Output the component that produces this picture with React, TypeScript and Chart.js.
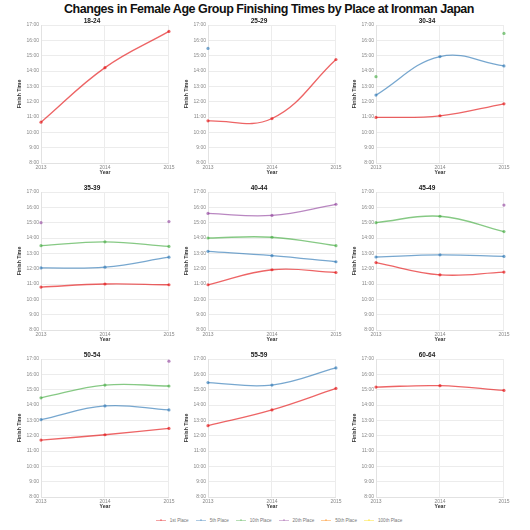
import React, { useEffect, useRef } from 'react';
import { Chart, registerables } from 'chart.js';

Chart.register(...registerables);

const FONT = '"Liberation Sans", Arial, Helvetica, sans-serif';

const years = ['2013', '2014', '2015'];
const ageGroups = ['18-24', '25-29', '30-34', '35-39', '40-44', '45-49', '50-54', '55-59', '60-64'];
const placeNames = ['1st Place', '5th Place', '10th Place', '20th Place', '50th Place', '100th Place'];
const placeColors = [
  'rgba(228,26,28,0.68)',
  'rgba(55,126,184,0.68)',
  'rgba(77,175,74,0.68)',
  'rgba(152,78,163,0.68)',
  'rgba(255,127,0,0.68)',
  'rgba(255,221,0,0.68)',
];
const legendColors = [
  'rgba(228,26,28,0.4)',
  'rgba(55,126,184,0.4)',
  'rgba(77,175,74,0.4)',
  'rgba(152,78,163,0.4)',
  'rgba(255,127,0,0.4)',
  'rgba(255,221,0,0.4)',
];
const yTicks = [8, 9, 10, 11, 12, 13, 14, 15, 16, 17];

type S = (number | null)[];
const E: S = [null, null, null];

// finishing times in hours, one row per age group
const place1st: S[] = [
  [10.66, 14.22, 16.58],
  [10.75, 10.9, 14.75],
  [10.97, 11.08, 11.86],
  [10.8, 11.0, 10.95],
  [10.95, 11.93, 11.75],
  [12.4, 11.6, 11.78],
  [11.71, 12.06, 12.47],
  [12.65, 13.68, 15.08],
  [15.17, 15.26, 14.95],
];
const place5th: S[] = [
  E,
  [15.47, null, null],
  [12.43, 14.94, 14.33],
  [12.05, 12.1, 12.75],
  [13.13, 12.85, 12.45],
  [12.76, 12.9, 12.8],
  [13.04, 13.94, 13.68],
  [15.46, 15.3, 16.42],
  E,
];
const place10th: S[] = [
  E,
  E,
  [13.63, null, 16.45],
  [13.5, 13.75, 13.45],
  [14.0, 14.05, 13.5],
  [15.0, 15.42, 14.42],
  [14.47, 15.3, 15.24],
  E,
  E,
];
const place20th: S[] = [
  E,
  E,
  E,
  [15.0, null, 15.07],
  [15.6, 15.47, 16.2],
  [null, null, 16.15],
  [null, null, 16.86],
  E,
  E,
];
const place50th: S[] = [E, E, E, E, E, E, E, E, E];
const place100th: S[] = [E, E, E, E, E, E, E, E, E];

const allPlaces = [place1st, place5th, place10th, place20th, place50th, place100th];

const plotLefts = [41, 208, 376];
const plotTops = [25, 192, 359];
const Y_W = 27;
const X_H = 14;
const T_H = 8;
const PLOT_W = 129;
const PLOT_H = 138;
const PAD_R = 6;

function Panel({ idx }: { idx: number }) {
  const ref = useRef<HTMLCanvasElement>(null);
  const col = idx % 3;
  const row = Math.floor(idx / 3);
  const left = plotLefts[col] - Y_W;
  const top = plotTops[row] - T_H;
  useEffect(() => {
    const datasets = allPlaces.map((arr, p) => ({
      label: placeNames[p],
      data: arr[idx],
      borderColor: placeColors[p],
      backgroundColor: placeColors[p],
      borderWidth: 1.3,
      pointRadius: 1.6,
      pointBorderWidth: 0,
      tension: 0.4,
      spanGaps: false,
    }));
    const chart = new Chart(ref.current!, {
      type: 'line',
      data: { labels: years, datasets },
      options: {
        animation: false,
        responsive: true,
        maintainAspectRatio: false,
        layout: { padding: { left: 0, right: PAD_R, top: 0, bottom: 0 } },
        plugins: {
          legend: { display: false },
          tooltip: { enabled: false },
          title: {
            display: true,
            text: ageGroups[idx],
            color: '#222',
            font: { family: FONT, size: 6.5, weight: 'bold', lineHeight: 1.2 },
            padding: { top: 0, bottom: 0.2 },
          },
        },
        scales: {
          x: {
            offset: false,
            grid: { color: '#ececec', lineWidth: 1, drawTicks: false },
            border: { color: '#e2e2e2' },
            ticks: { color: '#888', font: { family: FONT, size: 5 }, padding: 1.5, maxRotation: 0 },
            title: {
              display: true,
              text: 'Year',
              color: '#333',
              font: { family: FONT, size: 5.2, weight: 'bold', lineHeight: 1.2 },
              padding: { top: 0, bottom: 1 },
            },
            afterFit: (s: any) => {
              s.height = X_H;
            },
          },
          y: {
            min: 8,
            max: 17,
            afterBuildTicks: (s: any) => {
              s.ticks = yTicks.map((v) => ({ value: v }));
            },
            grid: { color: '#ececec', lineWidth: 1, drawTicks: false },
            border: { color: '#e2e2e2' },
            ticks: {
              color: '#888',
              font: { family: FONT, size: 5 },
              padding: 2,
              callback: (v: any) => `${v}:00`,
            },
            title: {
              display: true,
              text: 'Finish Time',
              color: '#333',
              font: { family: FONT, size: 5.2, weight: 'bold', lineHeight: 1.2 },
              padding: { top: 2, bottom: 0 },
            },
            afterFit: (s: any) => {
              s.width = Y_W;
            },
          },
        },
      },
    });
    return () => chart.destroy();
  }, [idx]);
  return (
    <div
      style={{
        position: 'absolute',
        left,
        top,
        width: Y_W + PLOT_W + PAD_R,
        height: T_H + PLOT_H + X_H,
      }}
    >
      <canvas ref={ref} />
    </div>
  );
}

function Legend() {
  return (
    <div
      style={{
        position: 'absolute',
        left: 14,
        top: 517.5,
        width: 530,
        display: 'flex',
        justifyContent: 'center',
        alignItems: 'center',
        fontFamily: FONT,
        fontSize: 4.6,
        color: '#777',
      }}
    >
      {placeNames.map((name, i) => (
        <div key={name} style={{ display: 'flex', alignItems: 'center', margin: '0 3.5px' }}>
          <div style={{ position: 'relative', width: 10, height: 5, marginRight: 4 }}>
            <div
              style={{
                position: 'absolute',
                left: 0,
                top: 2,
                width: 10,
                height: 1.3,
                background: legendColors[i],
              }}
            />
            <div
              style={{
                position: 'absolute',
                left: 4,
                top: 1.5,
                width: 2.2,
                height: 2.2,
                borderRadius: '50%',
                background: legendColors[i],
              }}
            />
          </div>
          <span style={{ lineHeight: '5px' }}>{name}</span>
        </div>
      ))}
    </div>
  );
}

export default function App() {
  return (
    <div
      style={{
        position: 'absolute',
        left: 0,
        top: 0,
        width: 530,
        height: 530,
        background: '#fff',
        overflow: 'hidden',
      }}
    >
      <div
        style={{
          position: 'absolute',
          left: 4,
          top: 2,
          width: 530,
          textAlign: 'center',
          fontFamily: FONT,
          fontWeight: 'bold',
          fontSize: 12.5,
          letterSpacing: -0.45,
          lineHeight: '14px',
          color: '#111',
        }}
      >
        Changes in Female Age Group Finishing Times by Place at Ironman Japan
      </div>
      {ageGroups.map((g, i) => (
        <Panel key={g} idx={i} />
      ))}
      <Legend />
    </div>
  );
}
